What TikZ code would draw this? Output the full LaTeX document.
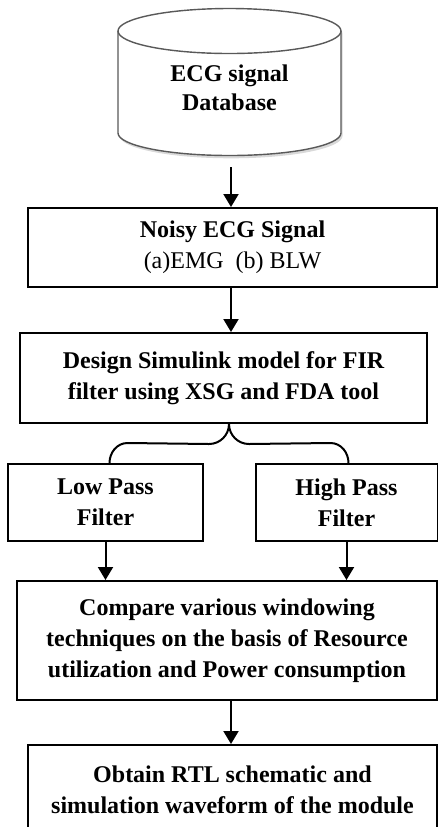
\documentclass[tikz,border=0pt]{standalone}
\usepackage{fontspec}
\setmainfont{Liberation Serif}
\usetikzlibrary{arrows.meta,shadows}
\tikzset{
  stage/.style={draw, line width=1pt, align=center, inner sep=0pt,
    font=\fontsize{12}{15.5}\selectfont\bfseries},
  dbtext/.style={align=center, inner sep=0pt, font=\fontsize{12}{14.5}\selectfont\bfseries},
  dbline/.style={draw=black!65, line width=0.7pt},
  flow/.style={-{Triangle[width=7.5pt,length=6.5pt]}, line width=1pt},
  fork/.style={line width=1pt},
}

\begin{document}
\begin{tikzpicture}[x=0.5pt, y=-0.5pt]
\clip (0,0) rectangle (438,827);

% database drum
\path[dbline, fill=white, drop shadow={shadow xshift=0.8pt, shadow yshift=-1.4pt, opacity=0.3}]
  (118,31) -- (118,133) arc[start angle=180, end angle=360, x radius=55.75pt, y radius=11.25pt]
  -- (341,31) arc[start angle=0, end angle=180, x radius=55.75pt, y radius=11.25pt] -- cycle;
\draw[dbline] (118,31) arc[start angle=180, end angle=360, x radius=55.75pt, y radius=11.25pt];
\node[dbtext] (db) at (229.5,88) {ECG signal\\Database};
\coordinate (dbbase) at (231,155);

\node[stage, minimum width=204.5pt, minimum height=39.5pt] (noisy) at (232.5,247.5)
  {Noisy ECG Signal\\{\mdseries (a)EMG~~(b) BLW}};
\node[stage, minimum width=203.5pt, minimum height=45pt] (design) at (223.5,378)
  {Design Simulink model for FIR\\filter using XSG and FDA tool};
\node[stage, minimum width=97.5pt, minimum height=38.5pt] (low) at (105.5,502.5)
  {Low Pass\\Filter};
\node[stage, minimum width=91pt, minimum height=38.5pt] (high) at (346.5,502.5)
  {High Pass\\Filter};
\node[stage, minimum width=210pt, minimum height=59.5pt] (compare) at (227,640.5)
  {Compare various windowing\\techniques on the basis of Resource\\utilization and Power consumption};
\node[stage, minimum width=204.5pt, minimum height=45pt] (obtain) at (232.5,790)
  {Obtain RTL schematic and\\simulation waveform of the module};

\draw[flow] ([yshift=-6pt]dbbase) -- (dbbase |- noisy.north);
\draw[flow] ([xshift=-0.75pt]noisy.south) -- ([xshift=-0.75pt]noisy.south |- design.north);

% split into the two filters
\coordinate (split) at ([xshift=2.75pt]design.south);
\draw[fork] ([xshift=2pt]low.north) to[out=90,in=180] ++(18,-20)
  -- ([xshift=-10pt,yshift=-10pt]split) to[out=0,in=-90] (split);
\draw[fork] ([xshift=1pt]high.north) to[out=90,in=0] ++(-18,-20)
  -- ([xshift=10pt,yshift=-10pt]split) to[out=180,in=-90] (split);

\draw[flow] (low.south) -- (low.south |- compare.north);
\draw[flow] (high.south) -- (high.south |- compare.north);
\draw[flow] ([xshift=2pt]compare.south) -- ([xshift=2pt]compare.south |- obtain.north);
\end{tikzpicture}
\end{document}
